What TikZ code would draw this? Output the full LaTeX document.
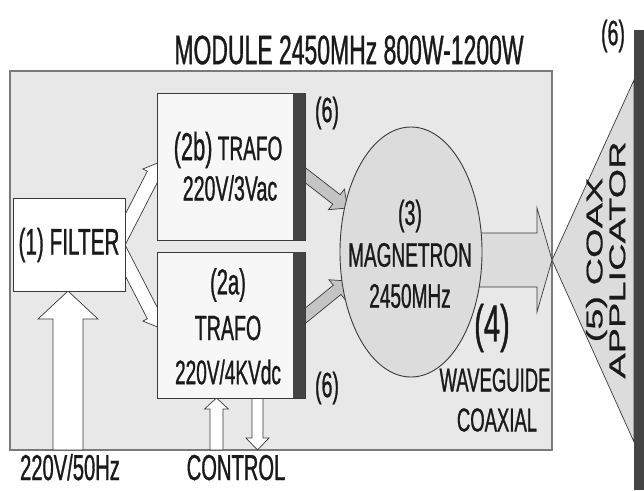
\documentclass[tikz,border=0pt]{standalone}
\usepackage{fontspec}
\setmainfont{Liberation Sans}[FakeStretch=0.56,FakeBold=0.8]
\newfontfamily\rotfont{Liberation Sans}[FakeBold=0.6]
\usetikzlibrary{calc}
\definecolor{modfill}{HTML}{E8E8E8}
\definecolor{modline}{HTML}{7A7A7A}
\definecolor{boxfill}{HTML}{F7F7F7}
\definecolor{darkbar}{HTML}{444444}
\definecolor{lgray}{HTML}{DCDCDC}
\definecolor{mgray}{HTML}{C4C4C4}
\definecolor{ink}{HTML}{1A1A1A}
\definecolor{edge}{HTML}{3A3A3A}
\newcommand{\fatarrow}[7]{%
  \coordinate (fab) at ($(#3)!#7!(#2)$);
  \filldraw[#1] ($(#2)!#4!90:(#3)$) -- ($(fab)!#5!90:(#3)$) -- ($(fab)!#6!90:(#3)$) -- (#3)
    -- ($(fab)!#6!-90:(#3)$) -- ($(fab)!#5!-90:(#3)$) -- ($(#2)!#4!-90:(#3)$) -- cycle;}
\begin{document}
\begin{tikzpicture}[x=1pt,y=-1pt,
  lbl/.style={inner sep=0pt, text=ink},
  fs/.style={font=\fontsize{#1}{#1}\selectfont},
  whitearr/.style={fill=white, draw=edge, line width=0.7pt, line join=miter},
  grayarr/.style={fill=mgray, draw=edge, line width=0.7pt},
  wgarr/.style={fill=lgray, draw=edge, line width=0.7pt},
  blk/.style={fill=boxfill, draw=edge, line width=1pt},
  bar/.style={fill=darkbar, draw=none}]
\useasboundingbox (0,0) rectangle (644,490);
\fill[white] (0,0) rectangle (644,490);
% module
\filldraw[fill=modfill, draw=modline, line width=1.2pt] (10,71) rectangle (552,450);
\draw[modline, line width=2.5pt] (10,71) -- (552,71);
% coordinates
\coordinate (inTail) at (68,450);
\coordinate (inTip) at (68,291);
\coordinate (cuTail) at (216.5,450);
\coordinate (cuTip) at (216.5,398);
\coordinate (cdTail) at (257.5,398);
\coordinate (cdTip) at (257.5,450);
\coordinate (fbTail) at (115.8,247.8);
\coordinate (fbTip) at (160,162);
\coordinate (faTail) at (115.8,242.2);
\coordinate (faTip) at (160,328);
\coordinate (gbTail) at (296,168);
\coordinate (gbTip) at (347.5,208);
\coordinate (gaTail) at (297,322.5);
\coordinate (gaTip) at (348,281);
\coordinate (wgTail) at (430,260);
\coordinate (wgTip) at (552,260);
% input and control arrows
\fatarrow{whitearr}{inTail}{inTip}{15pt}{15pt}{30pt}{28pt}
\fatarrow{whitearr}{cuTail}{cuTip}{6.5pt}{6.5pt}{12pt}{11pt}
\fatarrow{whitearr}{cdTail}{cdTip}{5.5pt}{5.5pt}{11.5pt}{12pt}
% filter to trafo arrows
\fatarrow{whitearr}{fbTail}{fbTip}{7pt}{7pt}{12pt}{14pt}
\fatarrow{whitearr}{faTail}{faTip}{7pt}{7pt}{12pt}{14pt}
% filter box
\filldraw[fill=white, draw=edge, line width=1pt] (13,198) rectangle (125,291);
% trafo to magnetron arrows
\fatarrow{grayarr}{gbTail}{gbTip}{6pt}{6pt}{13pt}{14pt}
\fatarrow{grayarr}{gaTail}{gaTip}{6pt}{6pt}{13pt}{14pt}
% trafo boxes
\filldraw[blk] (157,93) rectangle (305,240);
\fill[bar] (293,93) rectangle (305,240);
\filldraw[blk] (157,252) rectangle (305,398);
\fill[bar] (293,252) rectangle (305,398);
% waveguide arrow
\fatarrow{wgarr}{wgTail}{wgTip}{27pt}{27pt}{52pt}{15pt}
% magnetron
\filldraw[fill=lgray, draw=edge, line width=0.9pt] (411,252) ellipse [x radius=71, y radius=125];
% applicator
\filldraw[fill=lgray, draw=edge, line width=0.7pt] (552,260) -- (634,80) -- (634,442) -- cycle;
\fill[bar] (634,30) rectangle (644,490);
% texts
\node[lbl, fs=41] (title) at (349,50) {MODULE 2450MHz 800W-1200W};
\node[lbl, fs=35] (six0) at (613,36) {(6)};
\node[lbl, fs=37] (filt) at (69,245) {(1) FILTER};
\node[lbl, fs=34] (tb1) at (228,150) {{\fontsize{39}{39}\selectfont(2b)} TRAFO};
\node[lbl, fs=35] (tb2) at (230,188) {220V/3Vac};
\node[lbl, fs=36] (ta1) at (228,285) {(2a)};
\node[lbl, fs=35] (ta2) at (228,328) {TRAFO};
\node[lbl, fs=34] (ta3) at (228,372) {220V/4KVdc};
\node[lbl, fs=35] (six1) at (327,113) {(6)};
\node[lbl, fs=35] (six2) at (327,388) {(6)};
\node[lbl, fs=35] (mg1) at (410,216) {(3)};
\node[lbl, fs=34] (mg2) at (410,255) {MAGNETRON};
\node[lbl, fs=34] (mg3) at (410,296) {2450MHz};
\node[lbl, fs=52] (four) at (492,328) {(4)};
\node[lbl, fs=33] (wg1) at (495,380) {WAVEGUIDE};
\node[lbl, fs=33] (wg2) at (497,420) {COAXIAL};
\node[lbl, fs=36, anchor=base] (inl) at (70,480) {220V/50Hz};
\node[lbl, fs=36, anchor=base] (ctl) at (236,480) {CONTROL};
\node[lbl, rotate=90] (app) at (609,260) {\scalebox{1}[0.6]{\rotfont\fontsize{38}{40}\selectfont\begin{tabular}{@{}c@{}}(5) COAX\\[-2pt]APPLICATOR\end{tabular}}};
\end{tikzpicture}
\end{document}
